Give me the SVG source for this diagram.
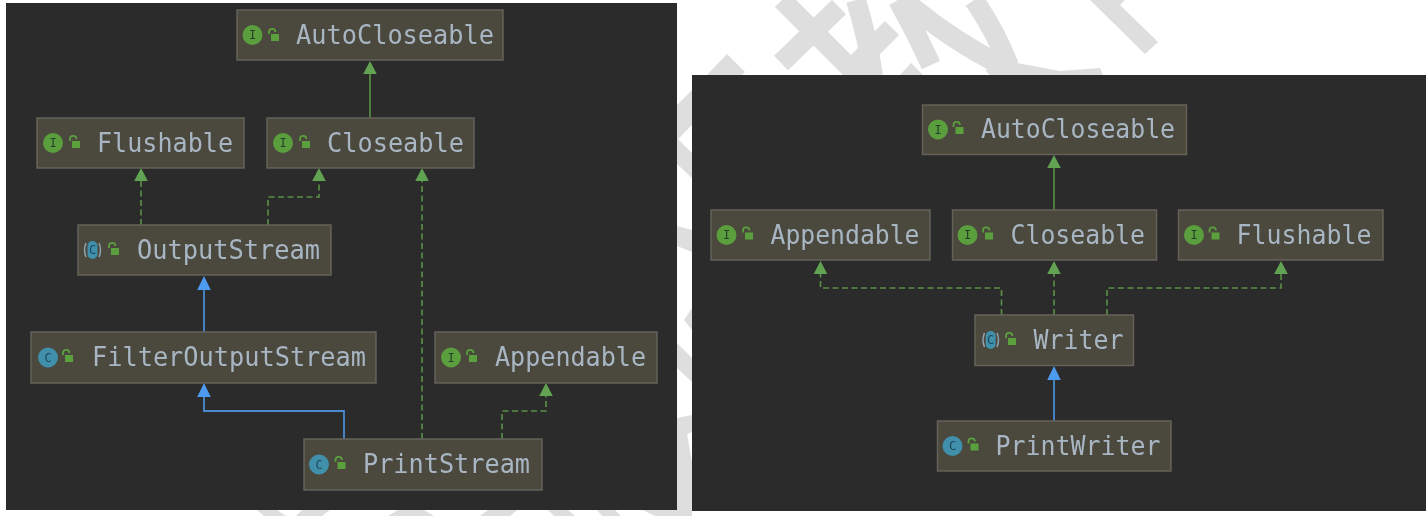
<svg xmlns="http://www.w3.org/2000/svg" width="1426" height="516" viewBox="0 0 1426 516">
<style>
.wm{fill:none;stroke:#dedede;stroke-width:20}
.wf{fill:#dedede}
.panel{fill:#2b2b2b}
.box{fill:#4c483d;stroke:#64625a;stroke-width:1.5}
.label{font-family:"DejaVu Sans Mono","Liberation Mono",monospace;font-size:26px;fill:#a8b6c4}
.ib{fill:#5a9e3e}
.cb{fill:#3f8fab}
.glyph{font-family:"DejaVu Sans Mono","Liberation Mono",monospace;font-size:12px;fill:#26402a;text-anchor:middle}
.cg{fill:#1f4658}
.paren{fill:none;stroke:#8fa3b0;stroke-width:1.5}
.g{fill:none;stroke:#5a9048;stroke-width:1.6}
.d{stroke-dasharray:6 3.5}
.b{fill:none;stroke:#4a8ad0;stroke-width:1.8}
.ga{fill:#62a352}
.ba{fill:#4d9bf0}
</style>
<defs>
<filter id="soft" x="-2%" y="-2%" width="104%" height="104%"><feGaussianBlur stdDeviation="0.45"/></filter>
<g id="lock">
<rect x="0" y="0" width="8" height="7" fill="#5aa03e"/>
<path d="M-2,0 V-2 A3.2,3.2 0 0 1 4.400,-2" fill="none" stroke="#5aa03e" stroke-width="1.8"/>
</g>
<polygon id="gh" class="ga" points="0,0 6.800,13 -6.800,13"/>
<polygon id="bh" class="ba" points="0,0 6.800,14 -6.800,14"/>
</defs>
<rect width="1426" height="516" fill="#ffffff"/>
<g id="watermark">
<path class="wm" d="M782,0 L860,78"/>
<path class="wm" d="M781,63 L839,7"/>
<path class="wm" d="M892,28 L845,75"/>
<path class="wm" stroke-width="18" d="M856,0 Q868,40 873,76"/>
<path class="wm" d="M898,0 Q916,32 931,65"/>
<path class="wm" d="M900,-3 Q950,40 1003,66"/>
<path class="wm" d="M974,0 Q996,32 1009,66"/>
<polygon class="wf" points="985,70 1017,63 1060,71 1100,68 1103,75 990,75"/>
<polygon class="wf" points="1090,0 1125,0 1120,5 1158,42 1145,54"/>
<polygon class="wf" points="707,75 727,54 745,72 742,75"/>
<polygon class="wf" points="900,75 911,63 923,75"/>
<polygon class="wf" points="677,105 692,90 692,125 678,139 692,153 692,178 677,164"/>
<polygon class="wf" points="677,226 692,230 692,252 677,246"/>
<polygon class="wf" points="692,308 684,320 692,330"/>
<polygon class="wf" points="677,343 692,358 692,382 677,368"/>
<polygon class="wf" points="677,418 692,415 692,432 687,434 692,462 692,516 677,516"/>
<polygon class="wf" points="257,510 277,510 286,516 264,516"/>
<polygon class="wf" points="296,516 302,510 330,510 322,516"/>
<polygon class="wf" points="388,516 398,510 424,510 434,516"/>
<polygon class="wf" points="480,516 488,510 517,510 510,516"/>
<polygon class="wf" points="548,510 568,510 575,516 554,516"/>
<polygon class="wf" points="597,510 615,510 621,516 602,516"/>
<polygon class="wf" points="643,510 677,510 692,516 655,516"/>
</g>
<rect class="panel" x="6" y="3" width="671" height="507"/>
<rect class="panel" x="692" y="75" width="734" height="436"/>
<g id="connectors" filter="url(#soft)">
<path class="g" d="M370,118 V72"/><use href="#gh" x="370" y="61"/>
<path class="g d" d="M141,225 V179"/><use href="#gh" x="141" y="168"/>
<path class="g d" d="M268,225 V197 H319 V179"/><use href="#gh" x="319" y="168"/>
<path class="g d" d="M422,439 V179"/><use href="#gh" x="422" y="168"/>
<path class="b" d="M204,332 V288"/><use href="#bh" x="204" y="276"/>
<path class="b" d="M344,439 V411 H204 V395"/><use href="#bh" x="204" y="383"/>
<path class="g d" d="M502,439 V411 H546 V394"/><use href="#gh" x="546" y="383"/>
<path class="g" d="M1054,210 V166"/><use href="#gh" x="1054" y="155"/>
<path class="g d" d="M1054,315 V272"/><use href="#gh" x="1054" y="261"/>
<path class="g d" d="M1001.500,315 V288 H820.500 V272"/><use href="#gh" x="820.500" y="261"/>
<path class="g d" d="M1107,315 V288 H1281 V272"/><use href="#gh" x="1281" y="261"/>
<path class="b" d="M1054,421 V378"/><use href="#bh" x="1054" y="366"/>
</g>
<g id="left-autocloseable" filter="url(#soft)"><rect class="box" x="237" y="10" width="266" height="50"/><circle class="ib" cx="252.500" cy="35" r="10"/><text class="glyph" x="252.500" y="39">I</text><use href="#lock" x="271" y="34"/><text class="label" x="296" y="43.500" textLength="198" lengthAdjust="spacingAndGlyphs">AutoCloseable</text></g>
<g id="left-flushable" filter="url(#soft)"><rect class="box" x="37" y="118" width="207" height="50"/><circle class="ib" cx="53" cy="143" r="10"/><text class="glyph" x="53" y="147">I</text><use href="#lock" x="72" y="141"/><text class="label" x="97" y="151.500" textLength="136" lengthAdjust="spacingAndGlyphs">Flushable</text></g>
<g id="left-closeable" filter="url(#soft)"><rect class="box" x="267" y="118" width="207" height="50"/><circle class="ib" cx="283" cy="143" r="10"/><text class="glyph" x="283" y="147">I</text><use href="#lock" x="302" y="141"/><text class="label" x="327" y="151.500" textLength="137" lengthAdjust="spacingAndGlyphs">Closeable</text></g>
<g id="left-outputstream" filter="url(#soft)"><rect class="box" x="78" y="225" width="253" height="50"/><path class="paren" d="M86,243 Q83,250 86,257 M99,243 Q102,250 99,257"/><rect class="cb" x="87.500" y="241" width="10" height="18" rx="5"/><text class="glyph cg" x="92.500" y="254">C</text><use href="#lock" x="111" y="248"/><text class="label" x="137" y="258.500" textLength="183" lengthAdjust="spacingAndGlyphs">OutputStream</text></g>
<g id="left-filteroutputstream" filter="url(#soft)"><rect class="box" x="31" y="332" width="345" height="51"/><circle class="cb" cx="48" cy="357.500" r="10"/><text class="glyph cg" x="48" y="361.500">C</text><use href="#lock" x="65" y="355"/><text class="label" x="92" y="366" textLength="274" lengthAdjust="spacingAndGlyphs">FilterOutputStream</text></g>
<g id="left-appendable" filter="url(#soft)"><rect class="box" x="435" y="332" width="222" height="51"/><circle class="ib" cx="451" cy="357.500" r="10"/><text class="glyph" x="451" y="361.500">I</text><use href="#lock" x="469" y="355"/><text class="label" x="495" y="366" textLength="151" lengthAdjust="spacingAndGlyphs">Appendable</text></g>
<g id="left-printstream" filter="url(#soft)"><rect class="box" x="304" y="439" width="238" height="51"/><circle class="cb" cx="319" cy="464.500" r="10"/><text class="glyph cg" x="319" y="468.500">C</text><use href="#lock" x="337.500" y="462"/><text class="label" x="363" y="473" textLength="167" lengthAdjust="spacingAndGlyphs">PrintStream</text></g>
<g id="right-autocloseable" filter="url(#soft)"><rect class="box" x="922.500" y="105" width="264" height="49.500"/><circle class="ib" cx="938" cy="129.500" r="10"/><text class="glyph" x="938" y="133.500">I</text><use href="#lock" x="955.500" y="127"/><text class="label" x="981" y="138" textLength="194" lengthAdjust="spacingAndGlyphs">AutoCloseable</text></g>
<g id="right-appendable" filter="url(#soft)"><rect class="box" x="711" y="210" width="219" height="50"/><circle class="ib" cx="726.500" cy="235" r="10"/><text class="glyph" x="726.500" y="239">I</text><use href="#lock" x="745" y="232.500"/><text class="label" x="770.500" y="243.500" textLength="149" lengthAdjust="spacingAndGlyphs">Appendable</text></g>
<g id="right-closeable" filter="url(#soft)"><rect class="box" x="952.500" y="210" width="204" height="50"/><circle class="ib" cx="967.500" cy="235" r="10"/><text class="glyph" x="967.500" y="239">I</text><use href="#lock" x="985" y="232.500"/><text class="label" x="1010.500" y="243.500" textLength="134.500" lengthAdjust="spacingAndGlyphs">Closeable</text></g>
<g id="right-flushable" filter="url(#soft)"><rect class="box" x="1178.500" y="210" width="204.500" height="50"/><circle class="ib" cx="1194" cy="235" r="10"/><text class="glyph" x="1194" y="239">I</text><use href="#lock" x="1211.500" y="232.500"/><text class="label" x="1236.500" y="243.500" textLength="135" lengthAdjust="spacingAndGlyphs">Flushable</text></g>
<g id="right-writer" filter="url(#soft)"><rect class="box" x="975" y="315" width="158.500" height="50.500"/><path class="paren" d="M984.500,333 Q981.500,340 984.500,347 M997,333 Q1000,340 997,347"/><rect class="cb" x="985.700" y="331" width="10" height="18" rx="5"/><text class="glyph cg" x="990.700" y="344">C</text><use href="#lock" x="1008" y="338"/><text class="label" x="1033.500" y="349" textLength="90" lengthAdjust="spacingAndGlyphs">Writer</text></g>
<g id="right-printwriter" filter="url(#soft)"><rect class="box" x="937.500" y="421" width="233.500" height="50"/><circle class="cb" cx="952.500" cy="446" r="10"/><text class="glyph cg" x="952.500" y="450">C</text><use href="#lock" x="970.500" y="443.500"/><text class="label" x="995.500" y="454.500" textLength="165" lengthAdjust="spacingAndGlyphs">PrintWriter</text></g>
</svg>
